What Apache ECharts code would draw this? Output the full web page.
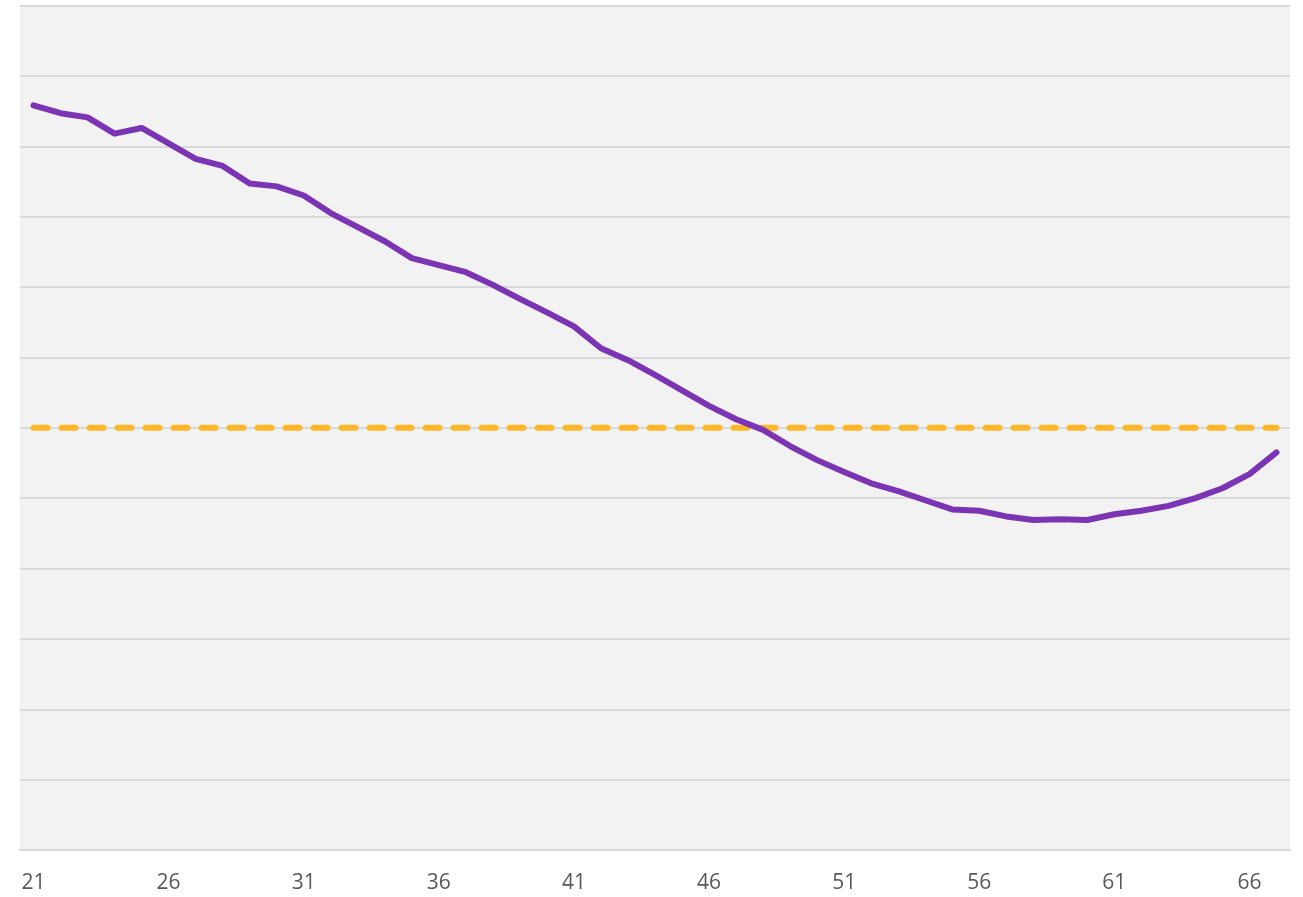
<!DOCTYPE html>
<html>
<head>
<meta charset="utf-8">
<script src="https://cdn.jsdelivr.net/npm/echarts@6/dist/echarts.min.js"></script>
<style>
  html, body { margin: 0; padding: 0; background: #fff; }
  #chart { width: 1303px; height: 897px; }
</style>
</head>
<body>
<div id="chart"></div>
<script>
// ages on the x axis
var ages = [];
for (var a = 21; a <= 67; a++) ages.push(String(a));

// purple curve
var values = [
  105.8, 104.7, 104.1, 101.8, 102.6, 100.4, 98.2, 97.2, 94.7, 94.3,
  93.0, 90.5, 88.5, 86.5, 84.1, 83.1, 82.1, 80.3, 78.3, 76.4,
  74.4, 71.3, 69.6, 67.5, 65.3, 63.1, 61.2, 59.7, 57.4, 55.4,
  53.7, 52.1, 51.0, 49.7, 48.4, 48.2, 47.4, 46.9, 47.0, 46.9,
  47.7, 48.2, 48.9, 50.0, 51.4, 53.4, 56.5
];

// dashed reference level
var refLevel = 60;
var refLine = ages.map(function () { return refLevel; });

var myChart = echarts.init(document.getElementById('chart'));
myChart.setOption({
    animation: false,
    grid: {
        left: 20,
        right: 13,
        top: 5.5,
        bottom: 47,
        show: true,
        backgroundColor: '#f2f2f2',
        borderWidth: 0
    },
    xAxis: {
        type: 'category',
        data: ages,
        boundaryGap: true,
        axisLine: { lineStyle: { color: '#d9d9d9', width: 2 } },
        axisTick: { show: false },
        axisLabel: {
            interval: 4,
            color: '#595959',
            fontSize: 21,
            fontFamily: 'Open Sans',
            margin: 23
        }
    },
    yAxis: {
        type: 'value',
        min: 0,
        max: 120,
        interval: 10,
        axisLine: { show: false },
        axisTick: { show: false },
        axisLabel: { show: false },
        splitLine: { lineStyle: { color: '#d9d9d9', width: 2 } }
    },
    series: [{
        type: 'line',
        data: refLine,
        symbol: 'none',
        z: 2,
        lineStyle: { color: '#ffb629', width: 6, type: [14, 14], cap: 'round' }
    }, {
        type: 'line',
        data: values,
        symbol: 'none',
        z: 3,
        lineStyle: { color: '#7a34b4', width: 6, cap: 'round', join: 'round' }
    }]
});
</script>
</body>
</html>
